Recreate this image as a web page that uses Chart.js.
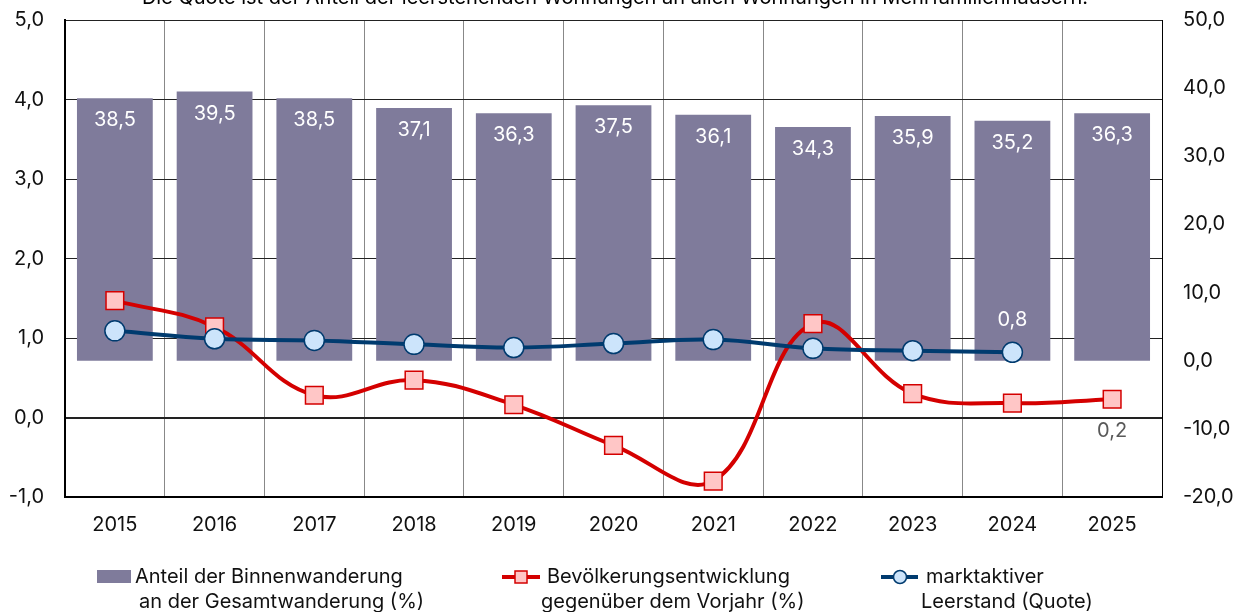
<!DOCTYPE html>
<html><head><meta charset="utf-8">
<script src="https://cdn.jsdelivr.net/npm/chart.js@4/dist/chart.umd.min.js"></script>
<style>html,body{margin:0;padding:0;background:#fff}#wrap{width:1243px;height:612px;position:relative}</style>
</head><body><div id="wrap"><canvas id="c" width="1243" height="612"></canvas></div>
<script>
const categories = ['2015','2016','2017','2018','2019','2020','2021','2022','2023','2024','2025'];
const binnenwanderung = [38.5,39.5,38.5,37.1,36.3,37.5,36.1,34.3,35.9,35.2,36.3];
const bevoelkerung = [1.47,1.14,0.28,0.47,0.16,-0.35,-0.80,1.18,0.30,0.18,0.23];
const leerstand = [1.09,0.99,0.97,0.92,0.88,0.93,0.98,0.87,0.84,0.82,null];
const leftTicks = [-1,0,1,2,3,4,5];
const rightTicks = [-20,-10,0,10,20,30,40,50];
const legendLabels = [
  ['Anteil der Binnenwanderung','an der Gesamtwanderung (%)'],
  ['Bevölkerungsentwicklung','gegenüber dem Vorjahr (%)'],
  ['marktaktiver','Leerstand (Quote)']
];
const titleText = 'Die Quote ist der Anteil der leerstehenden Wohnungen an allen Wohnungen in Mehrfamilienhäusern.';

const FONT = "Inter, sans-serif";
const FS = 20;
const fmt = v => v.toFixed(1).replace('.', ',');

const BAR = '#7f7b9b', RED = '#d40000', REDF = '#ffc6c6', BLUE = '#003b6f', BLUEF = '#cce4fb';

const labelsPlugin = {
  id: 'extras',
  afterDatasetsDraw(chart) {
    const ctx = chart.ctx;
    ctx.save();
    ctx.font = FS + 'px ' + FONT;
    ctx.textAlign = 'center';
    ctx.textBaseline = 'middle';
    const mb = chart.getDatasetMeta(0);
    mb.data.forEach((el, i) => {
      ctx.fillStyle = '#ffffff';
      ctx.fillText(fmt(binnenwanderung[i]), el.x, el.y + 22);
    });
    const ml = chart.getDatasetMeta(2);
    const bi = 9;
    ctx.fillStyle = '#ffffff';
    ctx.fillText(fmt(leerstand[bi]), ml.data[bi].x, ml.data[bi].y - 32);
    const mr = chart.getDatasetMeta(1);
    const ri = 10;
    ctx.fillStyle = '#595959';
    ctx.fillText(fmt(bevoelkerung[ri]), mr.data[ri].x, mr.data[ri].y + 32);
    ctx.restore();
  },
  afterDraw(chart) {
    const ctx = chart.ctx;
    ctx.save();
    ctx.font = FS + 'px ' + FONT;
    ctx.fillStyle = '#000';
    ctx.textAlign = 'center';
    ctx.textBaseline = 'alphabetic';
    ctx.fillText(titleText, 615, 4);
    ctx.textBaseline = 'middle';
    ctx.textAlign = 'left';
    const y1 = 577, y2 = 602;
    ctx.fillStyle = BAR;
    ctx.fillRect(97, 570, 34, 13);
    ctx.fillStyle = '#111';
    ctx.fillText(legendLabels[0][0], 135, y1);
    ctx.fillText(legendLabels[0][1], 139, y2);
    ctx.strokeStyle = RED; ctx.lineWidth = 4;
    ctx.beginPath(); ctx.moveTo(502, y1); ctx.lineTo(540, y1); ctx.stroke();
    ctx.fillStyle = REDF; ctx.fillRect(515, y1 - 6, 12, 12);
    ctx.lineWidth = 1.5; ctx.strokeRect(515, y1 - 6, 12, 12);
    ctx.fillStyle = '#111';
    ctx.fillText(legendLabels[1][0], 547, y1);
    ctx.fillText(legendLabels[1][1], 541, y2);
    ctx.strokeStyle = BLUE; ctx.lineWidth = 4;
    ctx.beginPath(); ctx.moveTo(881, y1); ctx.lineTo(918, y1); ctx.stroke();
    ctx.fillStyle = BLUEF; ctx.lineWidth = 1.5;
    ctx.beginPath(); ctx.arc(900, y1, 6.5, 0, Math.PI * 2); ctx.fill(); ctx.stroke();
    ctx.fillStyle = '#111';
    ctx.fillText(legendLabels[2][0], 926, y1);
    ctx.fillText(legendLabels[2][1], 921, y2);
    ctx.restore();
  }
};

function noPad(s) { s.paddingTop = 0; s.paddingBottom = 0; s.paddingLeft = 0; s.paddingRight = 0; }

new Chart(document.getElementById('c'), {
  data: {
    labels: categories,
    datasets: [
      { type: 'bar', label: 'Anteil der Binnenwanderung an der Gesamtwanderung (%)', data: binnenwanderung,
        yAxisID: 'y2', backgroundColor: BAR, borderWidth: 0, barPercentage: 0.76, categoryPercentage: 1, order: 3 },
      { type: 'line', label: 'Bevölkerungsentwicklung gegenüber dem Vorjahr (%)', data: bevoelkerung,
        yAxisID: 'y', borderColor: RED, borderWidth: 4, tension: 0.4, pointStyle: 'rect', pointRadius: 12.5,
        pointBackgroundColor: REDF, pointBorderColor: RED, pointBorderWidth: 1.5, order: 2 },
      { type: 'line', label: 'marktaktiver Leerstand (Quote)', data: leerstand,
        yAxisID: 'y', borderColor: BLUE, borderWidth: 4, tension: 0.4, pointStyle: 'circle', pointRadius: 10,
        pointBackgroundColor: BLUEF, pointBorderColor: BLUE, pointBorderWidth: 1.5, order: 1 }
    ]
  },
  options: {
    responsive: false, animation: false,
    layout: { padding: { top: 20, bottom: 65, left: 0, right: 0 } },
    plugins: { legend: { display: false }, tooltip: { enabled: false }, title: { display: false } },
    scales: {
      x: {
        offset: true,
        grid: { display: true, offset: true, color: '#888', lineWidth: 1, drawTicks: false },
        border: { display: true, color: '#000', width: 2 },
        ticks: { color: '#111', font: { family: FONT, size: FS }, padding: 16, maxRotation: 0 },
        afterFit(s) { s.height = 50; noPad(s); }
      },
      y: {
        position: 'left', min: -1, max: 5,
        afterBuildTicks(s) { s.ticks = leftTicks.map(v => ({ value: v })); },
        grid: { color: '#222', lineWidth: ctx => (ctx.tick && ctx.tick.value === 0) ? 2 : 1, drawTicks: false },
        border: { display: true, color: '#000', width: 2 },
        ticks: { color: '#111', font: { family: FONT, size: FS }, padding: 21, callback: v => fmt(v) },
        afterFit(s) { s.width = 65; noPad(s); }
      },
      y2: {
        position: 'right', min: -20, max: 50,
        afterBuildTicks(s) { s.ticks = rightTicks.map(v => ({ value: v })); },
        grid: { display: false, drawTicks: false },
        border: { display: true, color: '#000', width: 1 },
        ticks: { color: '#111', font: { family: FONT, size: FS }, padding: 21, callback: v => fmt(v) },
        afterFit(s) { s.width = 81; noPad(s); }
      }
    }
  },
  plugins: [labelsPlugin]
});
</script></body></html>
